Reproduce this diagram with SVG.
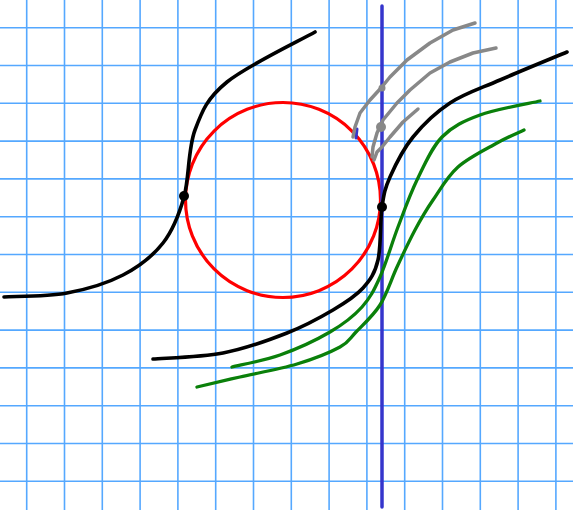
<svg xmlns="http://www.w3.org/2000/svg" width="573" height="510" viewBox="0 0 573 510">
<style>
.grid line{stroke:#55a8ff;stroke-width:1.6}
.ink{fill:none;stroke-linecap:round;stroke-linejoin:round}
.blk{stroke:#000;stroke-width:3.6}
.grn{stroke:#0a800a;stroke-width:3.3}
.gry{stroke:#888;stroke-width:3.5}
</style>
<rect width="573" height="510" fill="#fff"/>
<g id="grid" class="grid">
<line x1="26.7" y1="0" x2="26.7" y2="510"/><line x1="64.5" y1="0" x2="64.5" y2="510"/><line x1="102.3" y1="0" x2="102.3" y2="510"/><line x1="140.1" y1="0" x2="140.1" y2="510"/><line x1="177.9" y1="0" x2="177.9" y2="510"/><line x1="215.7" y1="0" x2="215.7" y2="510"/><line x1="253.5" y1="0" x2="253.5" y2="510"/><line x1="291.3" y1="0" x2="291.3" y2="510"/><line x1="329.1" y1="0" x2="329.1" y2="510"/><line x1="366.9" y1="0" x2="366.9" y2="510"/><line x1="404.7" y1="0" x2="404.7" y2="510"/><line x1="442.5" y1="0" x2="442.5" y2="510"/><line x1="480.3" y1="0" x2="480.3" y2="510"/><line x1="518.1" y1="0" x2="518.1" y2="510"/><line x1="555.9" y1="0" x2="555.9" y2="510"/>
<line x1="0" y1="27.7" x2="573" y2="27.7"/><line x1="0" y1="65.5" x2="573" y2="65.5"/><line x1="0" y1="103.3" x2="573" y2="103.3"/><line x1="0" y1="141.1" x2="573" y2="141.1"/><line x1="0" y1="178.9" x2="573" y2="178.9"/><line x1="0" y1="216.7" x2="573" y2="216.7"/><line x1="0" y1="254.5" x2="573" y2="254.5"/><line x1="0" y1="292.3" x2="573" y2="292.3"/><line x1="0" y1="330.1" x2="573" y2="330.1"/><line x1="0" y1="367.9" x2="573" y2="367.9"/><line x1="0" y1="405.7" x2="573" y2="405.7"/><line x1="0" y1="443.5" x2="573" y2="443.5"/><line x1="0" y1="481.3" x2="573" y2="481.3"/>
</g>
<g id="circle"><circle cx="283" cy="200" r="97.5" fill="none" stroke="#f00" stroke-width="3.2"/></g>
<g id="blue-line" class="ink">
<line x1="382" y1="6" x2="382" y2="507" stroke="#3535cc" stroke-width="3.5"/>
<line x1="357" y1="129" x2="356" y2="138" stroke="#3535cc" stroke-width="3"/>
</g>
<g id="gray-curves" class="ink gry">
<polyline points="475,23 453,30 430,43 407,60 390,77 381,88 370,100 360,113 355,127 353,137"/>
<polyline points="496,48 473,53 450,62 430,73 410,90 397,103 383,120 377,133 373,147 372,157"/>
<polyline points="418,109 403,122 390,137 382,147 377,152 374,160"/>
<circle cx="382" cy="88" r="3.5" fill="#888" stroke="none"/>
<circle cx="381" cy="127" r="5" fill="#888" stroke="none"/>
</g>
<g id="green-curves" class="ink grn">
<path d="M232,367 C240,365 263.7,360.8 280,355 C296.3,349.2 316.3,340 330,332 C343.7,324 353.7,316.2 362,307 C370.3,297.8 374,290.3 380,277 C386,263.7 391.8,243.2 398,227 C404.2,210.8 409.7,195 417,180 C424.3,165 431.5,147.8 442,137 C452.5,126.2 463.7,121 480,115 C496.3,109 530,103.3 540,101"/>
<path d="M197,387 C204.2,385.3 223.3,380.8 240,377 C256.7,373.2 280.3,369 297,364 C313.7,359 330.2,352.3 340,347 C349.8,341.7 349.3,339 356,332 C362.7,325 373.2,315.8 380,305 C386.8,294.2 391.2,279.5 397,267 C402.8,254.5 409,241.2 415,230 C421,218.8 425.8,210.5 433,200 C440.2,189.5 447.3,176.5 458,167 C468.7,157.5 486,149.2 497,143 C508,136.8 519.5,132.2 524,130"/>
</g>
<g id="black-curves" class="ink blk">
<path d="M4,297 C14.5,296.3 47.2,296.7 67,293 C86.8,289.3 107,283.3 123,275 C139,266.7 152.8,256 163,243 C173.2,230 178.7,215.8 184,197 C189.3,178.2 187.8,149.2 195,130 C202.2,110.8 207,98.3 227,82 C247,65.7 300.3,40.3 315,32"/>
<path d="M153,359 C164.7,358 200.7,357.3 223,353 C245.3,348.7 268.7,340.2 287,333 C305.3,325.8 320.3,317.5 333,310 C345.7,302.5 355.5,296.3 363,288 C370.5,279.7 374.8,273.5 378,260 C381.2,246.5 380,220.8 382,207 C384,193.2 384.8,188.7 390,177 C395.2,165.3 403,149.3 413,137 C423,124.7 435.5,112.5 450,103 C464.5,93.5 480.5,88.5 500,80 C519.5,71.5 555.8,56.7 567,52"/>
<circle cx="184" cy="196" r="5" fill="#000" stroke="none"/>
<circle cx="382" cy="207" r="5" fill="#000" stroke="none"/>
</g>
</svg>
